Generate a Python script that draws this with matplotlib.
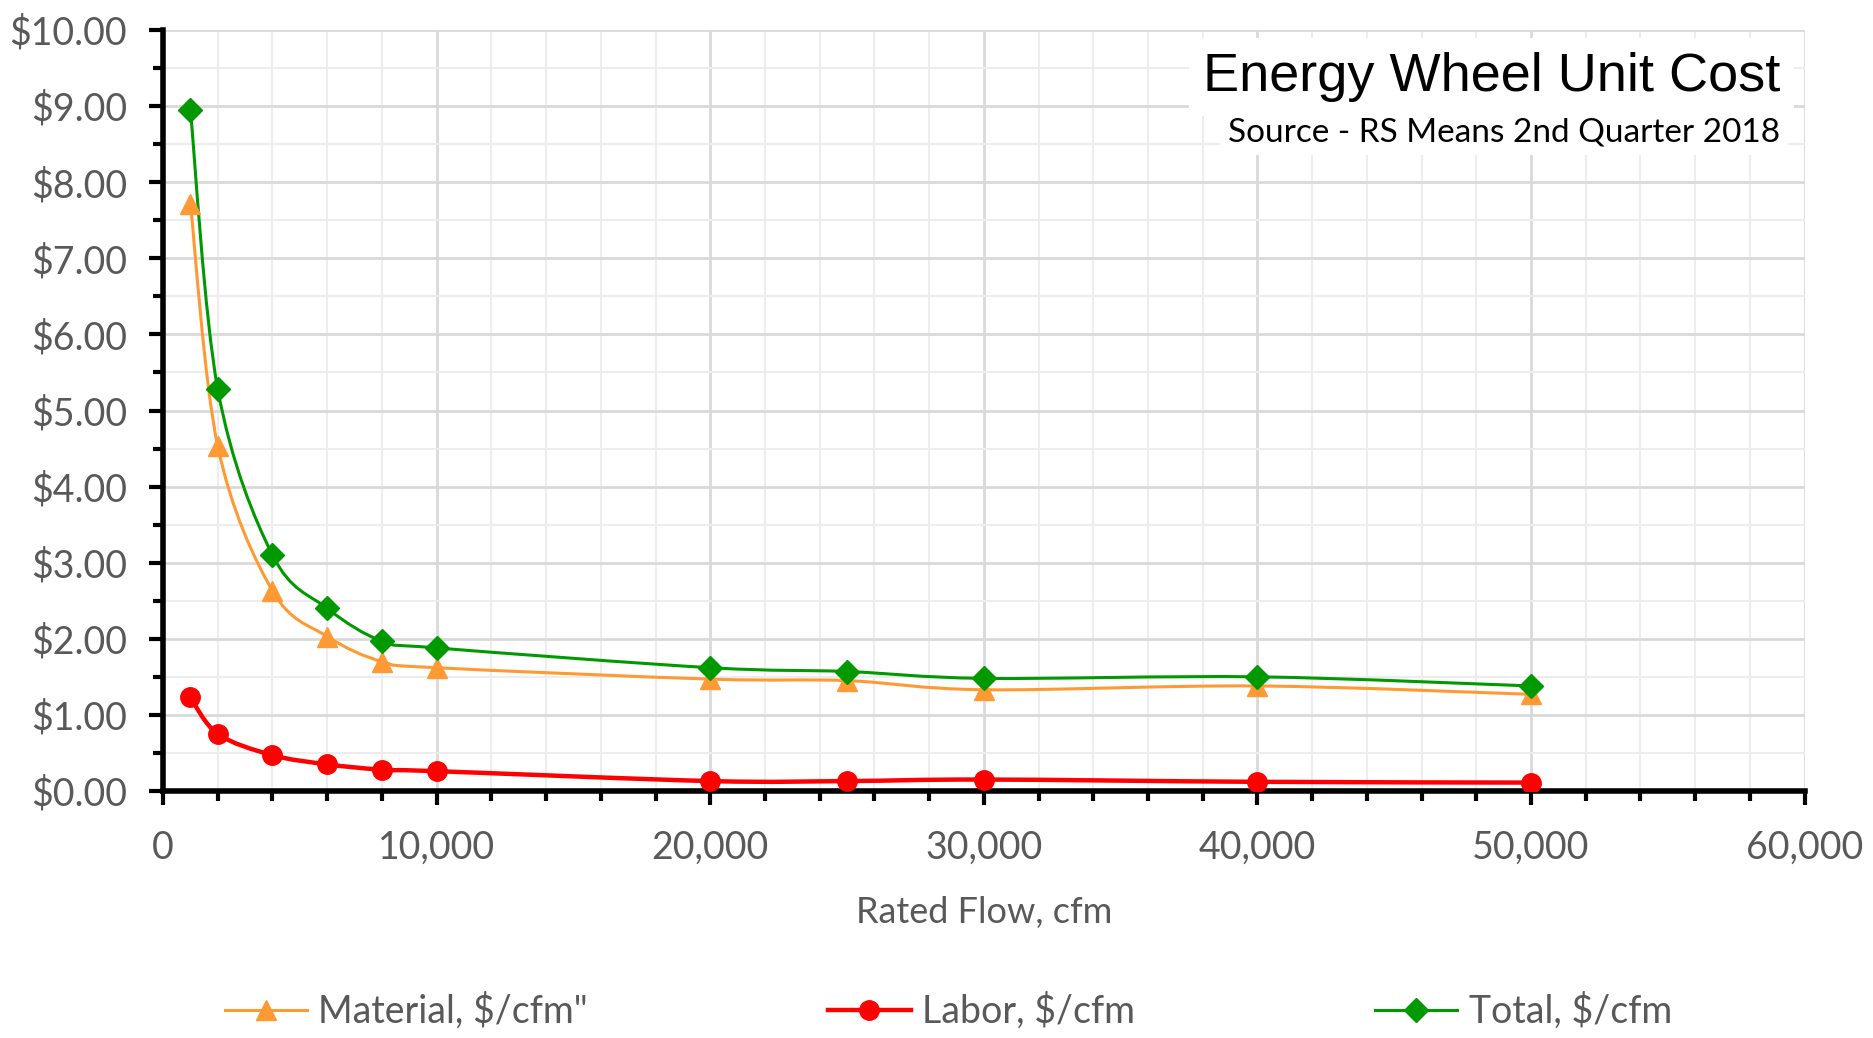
import numpy as np
import matplotlib
matplotlib.use("Agg")
import matplotlib.pyplot as plt
from matplotlib.path import Path
from matplotlib.patches import PathPatch
from matplotlib.lines import Line2D
from matplotlib.ticker import MultipleLocator, FuncFormatter

# Rated flow (cfm) and unit costs ($/cfm)
flow = [1000, 2000, 4000, 6000, 8000, 10000, 20000, 25000, 30000, 40000, 50000]
material = [7.72, 4.53, 2.63, 2.03, 1.70, 1.62, 1.47, 1.45, 1.33, 1.38, 1.27]
labor = [1.23, 0.75, 0.47, 0.35, 0.28, 0.26, 0.13, 0.13, 0.15, 0.12, 0.11]
total = [8.95, 5.28, 3.10, 2.40, 1.97, 1.88, 1.62, 1.57, 1.48, 1.50, 1.38]

series_labels = ['Material, $/cfm"', "Labor, $/cfm", "Total, $/cfm"]
title = "Energy Wheel Unit Cost"
subtitle = "Source - RS Means 2nd Quarter 2018"
xlabel = "Rated Flow, cfm"

TEXT = "#595959"
FONT = "Lato"


def smooth_path(x, y, tension=0.5):
    """Cardinal-spline path through the points, as cubic Bezier segments."""
    x = np.asarray(x, float)
    y = np.asarray(y, float)
    n = len(x)
    verts = [(x[0], y[0])]
    codes = [Path.MOVETO]
    for i in range(n - 1):
        i0 = max(i - 1, 0)
        i3 = min(i + 2, n - 1)
        t1x = (x[i + 1] - x[i0]) * tension / 3
        t1y = (y[i + 1] - y[i0]) * tension / 3
        t2x = (x[i3] - x[i]) * tension / 3
        t2y = (y[i3] - y[i]) * tension / 3
        verts += [(x[i] + t1x, y[i] + t1y),
                  (x[i + 1] - t2x, y[i + 1] - t2y),
                  (x[i + 1], y[i + 1])]
        codes += [Path.CURVE4] * 3
    return Path(verts, codes)


fig = plt.figure(figsize=(18.74, 10.38), dpi=100)
ax = fig.add_axes([0.087, 0.238, 0.876, 0.733])

styles = [
    (material, "#FF9933", "^", 15, 2.2),
    (labor, "#FF0000", "o", 14, 3.2),
    (total, "#009900", "D", 12, 2.2),
]
handles = []
for (vals, color, marker, ms, lw), lab in zip(styles, series_labels):
    ax.add_patch(PathPatch(smooth_path(flow, vals), fill=False, edgecolor=color,
                           linewidth=lw, zorder=3))
    ax.plot(flow, vals, linestyle="none", marker=marker, markersize=ms,
            color=color, zorder=4)
    handles.append(Line2D([], [], color=color, linewidth=lw, marker=marker,
                          markersize=ms))

ax.set_xlim(0, 60000)
ax.set_ylim(0, 10)
ax.xaxis.set_major_locator(MultipleLocator(10000))
ax.xaxis.set_minor_locator(MultipleLocator(2000))
ax.yaxis.set_major_locator(MultipleLocator(1))
ax.yaxis.set_minor_locator(MultipleLocator(0.5))
ax.xaxis.set_major_formatter(FuncFormatter(lambda v, p: f"{v:,.0f}"))
ax.yaxis.set_major_formatter(FuncFormatter(lambda v, p: f"${v:,.2f}"))

ax.grid(which="major", color="#D9D9D9", linewidth=2)
ax.grid(which="minor", color="#EDEDED", linewidth=1.5)
ax.set_axisbelow(True)

for side in ("top", "right"):
    ax.spines[side].set_visible(False)
for side in ("left", "bottom"):
    ax.spines[side].set_linewidth(4)
    ax.spines[side].set_color("black")

ax.tick_params(which="major", direction="out", length=10, width=3,
               colors="black", labelcolor=TEXT, labelsize=27)
ax.tick_params(which="minor", direction="out", length=7, width=3, colors="black")
ax.tick_params(axis="x", which="major", pad=18)
ax.tick_params(axis="y", which="major", pad=16)
for lbl in ax.get_xticklabels() + ax.get_yticklabels():
    lbl.set_fontfamily(FONT)

ax.set_xlabel(xlabel, fontsize=26, color=TEXT, fontfamily=FONT, labelpad=22)

ax.text(0.985, 0.938, title, transform=ax.transAxes, ha="right", va="center",
        fontsize=39, fontfamily="Liberation Sans", color="black", zorder=6,
        bbox=dict(facecolor="white", edgecolor="none", pad=10))
ax.text(0.985, 0.866, subtitle, transform=ax.transAxes, ha="right", va="center",
        fontsize=24, fontfamily=FONT, color="black", zorder=6,
        bbox=dict(facecolor="white", edgecolor="none", pad=6))

fig.legend(handles, series_labels, loc="center", bbox_to_anchor=(0.506, 0.026),
           ncol=3, frameon=False, columnspacing=6.4, handlelength=2.2,
           handletextpad=0.3, prop=dict(family=FONT, size=27), labelcolor=TEXT)

fig.savefig("out.png", dpi=100, facecolor="white")
